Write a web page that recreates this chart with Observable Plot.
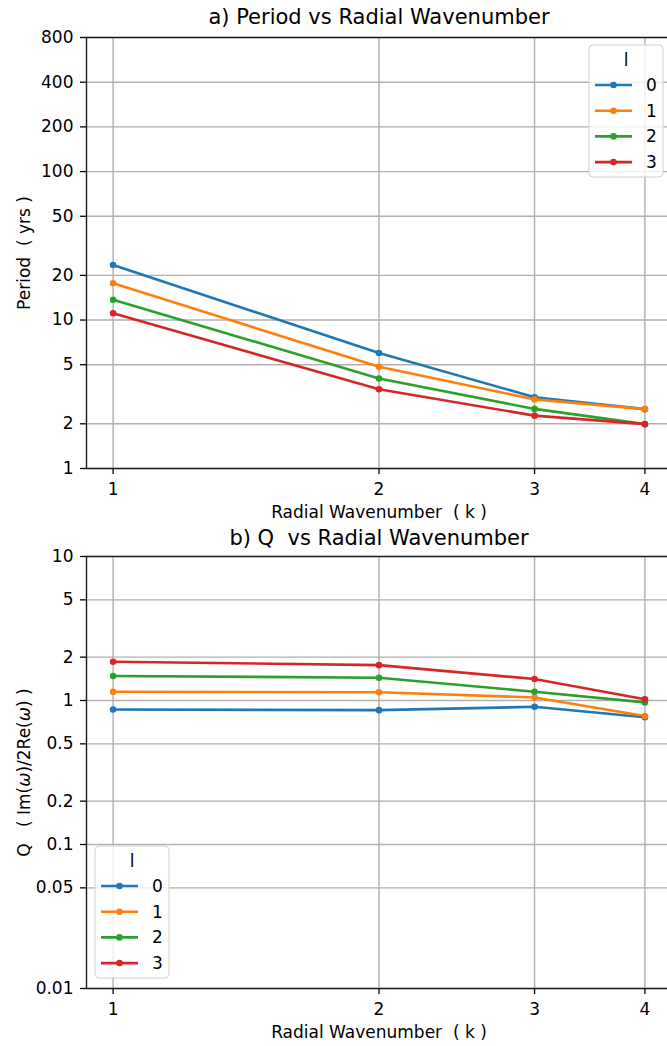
<!DOCTYPE html>
<html>
<head>
<meta charset="utf-8">
<script src="https://cdn.jsdelivr.net/npm/d3@7"></script>
<script src="https://cdn.jsdelivr.net/npm/@observablehq/plot@0.6"></script>
<style>
  body { margin: 0; background: #fff; font-family: "DejaVu Sans", sans-serif; }
  #wrap { position: relative; width: 667px; height: 1046px; overflow: hidden; background: #fff; }
  .panel { position: absolute; left: 0; width: 667px; }
  .legend { position: absolute; overflow: visible; }
</style>
</head>
<body>
<div id="wrap"></div>
<script>
// ---------------- data ----------------
const k = [1, 2, 3, 4];
const lValues = [0, 1, 2, 3];
const periodL0 = [23.5, 6.0, 3.02, 2.51];
const periodL1 = [17.7, 4.84, 2.92, 2.51];
const periodL2 = [13.7, 4.04, 2.52, 1.99];
const periodL3 = [11.1, 3.42, 2.27, 1.99];
const qL0 = [0.866, 0.857, 0.904, 0.766];
const qL1 = [1.15, 1.14, 1.05, 0.78];
const qL2 = [1.48, 1.44, 1.15, 0.97];
const qL3 = [1.86, 1.76, 1.41, 1.02];
const periodTicks = [1, 2, 5, 10, 20, 50, 100, 200, 400, 800];
const qTicks = [0.01, 0.05, 0.1, 0.2, 0.5, 1, 2, 5, 10];
const colors = ["#1f77b4", "#ff7f0e", "#2ca02c", "#d62728"];

// ---------------- helpers ----------------
const wrap = document.getElementById("wrap");
const FONT = "DejaVu Sans";
// matplotlib-style 5% margin in log space
const pad = Math.pow(10, Math.log10(k[k.length - 1] / k[0]) * 0.05);
const xDomain = [k[0] / pad, k[k.length - 1] * pad];

function rowsFrom(series) {
  const rows = [];
  series.forEach((vals, i) => vals.forEach((v, j) => rows.push({k: k[j], v, l: String(lValues[i])})));
  return rows;
}

function makePanel({series, yDomain, yTicks, title, xlabel, ylabel, top, height, marginTop, marginBottom, titleDy, italicOmega}) {
  const rows = rowsFrom(series);
  const svg = Plot.plot({
    width: 667,
    height,
    marginTop,
    marginBottom,
    marginLeft: 86,
    marginRight: -4,
    style: {fontFamily: FONT, fontSize: "17px", color: "black", background: "transparent"},
    x: {type: "log", domain: xDomain},
    y: {type: "log", domain: yDomain},
    color: {domain: lValues.map(String), range: colors},
    marks: [
      Plot.gridX(k, {stroke: "#b0b0b0", strokeOpacity: 1, strokeWidth: 1.4}),
      Plot.gridY(yTicks, {stroke: "#b0b0b0", strokeOpacity: 1, strokeWidth: 1.4}),
      Plot.axisX(k, {tickSize: 6, tickPadding: 8, label: null, tickFormat: d => String(d), fontSize: 17, strokeWidth: 1.3}),
      Plot.axisY(yTicks, {tickSize: 6, tickPadding: 5, label: null, tickFormat: () => "", fontSize: 17, strokeWidth: 1.3}),
      Plot.text(yTicks, {y: d => d, text: d => String(d), frameAnchor: "left", dx: -13, textAnchor: "end", lineAnchor: "middle", fontSize: 17}),
      Plot.frame({stroke: "#1a1a1a", strokeWidth: 1.4}),
      Plot.line(rows, {x: "k", y: "v", stroke: "l", strokeWidth: 2.6}),
      Plot.dot(rows, {x: "k", y: "v", fill: "l", r: 3.3}),
      Plot.text([title], {text: d => d, frameAnchor: "top", lineAnchor: "middle", textAnchor: "middle", dy: titleDy, fontSize: 21}),
      Plot.text([xlabel], {text: d => d, frameAnchor: "bottom", lineAnchor: "middle", textAnchor: "middle", dy: 44, fontSize: 17}),
      Plot.text([ylabel], {text: d => d, frameAnchor: "left", lineAnchor: "middle", textAnchor: "middle", dx: -62, rotate: -90, fontSize: 17})
    ]
  });
  svg.classList.add("panel");
  svg.style.top = top + "px";
  svg.style.position = "absolute";
  wrap.appendChild(svg);
  if (italicOmega) {
    d3.select(svg).selectAll("text").each(function () {
      const t = d3.select(this);
      if (t.text() === ylabel) {
        const parts = ylabel.split("ω");
        t.text(null);
        parts.forEach((p, i) => {
          t.append("tspan").text(p);
          if (i < parts.length - 1) t.append("tspan").attr("font-style", "italic").text("ω");
        });
      }
    });
  }
  return svg;
}

function makeLegend(left, top) {
  const w = 74, h = 132;
  const svg = d3.create("svg")
    .attr("class", "legend")
    .attr("width", w + 2).attr("height", h + 2)
    .style("left", (left - 1) + "px").style("top", (top - 1) + "px")
    .style("font-family", FONT);
  const g = svg.append("g").attr("transform", "translate(1,1)");
  g.append("rect").attr("width", w).attr("height", h).attr("rx", 4)
    .attr("fill", "rgba(255,255,255,0.8)").attr("stroke", "#d0d0d0").attr("stroke-width", 1);
  g.append("text").attr("x", w / 2).attr("y", 15).attr("text-anchor", "middle")
    .attr("dominant-baseline", "central").attr("font-size", 17).text("l");
  lValues.forEach((l, i) => {
    const y = 40 + i * 25.7;
    g.append("line").attr("x1", 6).attr("x2", 43).attr("y1", y).attr("y2", y)
      .attr("stroke", colors[i]).attr("stroke-width", 2.6);
    g.append("circle").attr("cx", 24.5).attr("cy", y).attr("r", 3.3).attr("fill", colors[i]);
    g.append("text").attr("x", 57).attr("y", y).attr("dominant-baseline", "central")
      .attr("font-size", 17).text(String(l));
  });
  wrap.appendChild(svg.node());
}

makePanel({
  series: [periodL0, periodL1, periodL2, periodL3],
  yDomain: [1, 800], yTicks: periodTicks,
  title: "a) Period vs Radial Wavenumber",
  xlabel: "Radial Wavenumber  ( k )",
  ylabel: "Period  ( yrs )",
  top: 0, height: 523, marginTop: 37, marginBottom: 55, titleDy: -20
});
makePanel({
  series: [qL0, qL1, qL2, qL3],
  yDomain: [0.01, 10], yTicks: qTicks,
  title: "b) Q  vs Radial Wavenumber",
  xlabel: "Radial Wavenumber  ( k )",
  ylabel: "Q   ( Im(ω)/2Re(ω) )",
  top: 523, height: 523, marginTop: 33, marginBottom: 58, titleDy: -18, italicOmega: true
});
makeLegend(589, 45);
makeLegend(95, 846);
</script>
</body>
</html>
